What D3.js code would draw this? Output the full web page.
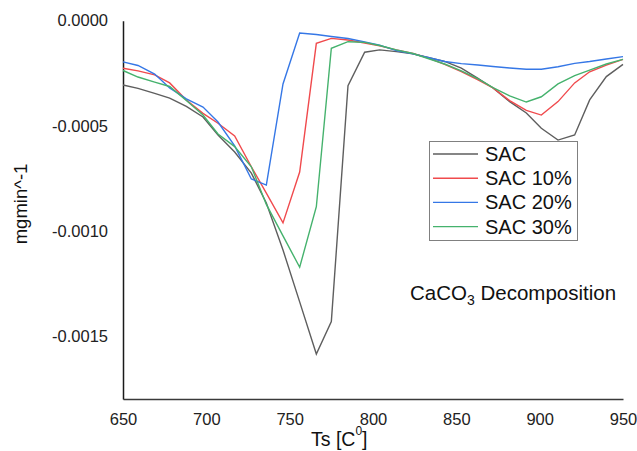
<!DOCTYPE html>
<html>
<head>
<meta charset="utf-8">
<script src="https://cdn.jsdelivr.net/npm/d3@7"></script>
<style>
  html, body { margin: 0; padding: 0; background: #fff; }
  svg { display: block; font-family: "Liberation Sans", Arial, sans-serif; }
</style>
</head>
<body>
<svg id="chart" width="637" height="451"></svg>
<script>
// ---- data ----
const temps = [650, 659, 669, 678, 688, 698, 707, 717, 727, 736, 746, 756, 766, 775, 785, 795,
               804, 814, 824, 833, 843, 853, 863, 872, 882, 892, 901, 911, 921, 930, 940, 950];

const sac = [-0.000306, -0.000322, -0.000346, -0.000368, -0.000408, -0.000458, -0.000544, -0.000625,
             -0.000725, -0.000867, -0.001091, -0.001338, -0.001586, -0.001432, -0.000309, -0.000150,
             -0.000139, -0.000147, -0.000158, -0.000175, -0.000194, -0.000226, -0.000274, -0.000320,
             -0.000385, -0.000439, -0.000512, -0.000568, -0.000544, -0.000377, -0.000266, -0.000208];

const sac10 = [-0.000226, -0.000239, -0.000258, -0.000296, -0.000377, -0.000441, -0.000488, -0.000548,
               -0.000695, -0.000820, -0.000962, -0.000720, -0.000108, -0.000084, -0.000092, -0.000106,
               -0.000120, -0.000139, -0.000156, -0.000177, -0.000208, -0.000242, -0.000282, -0.000320,
               -0.000380, -0.000427, -0.000449, -0.000385, -0.000296, -0.000243, -0.000211, -0.000184];

const sac20 = [-0.000196, -0.000213, -0.000254, -0.000320, -0.000372, -0.000411, -0.000482, -0.000596,
               -0.000753, -0.000782, -0.000301, -0.000059, -0.000066, -0.000075, -0.000085, -0.000101,
               -0.000116, -0.000142, -0.000158, -0.000175, -0.000194, -0.000204, -0.000211, -0.000218,
               -0.000225, -0.000231, -0.000231, -0.000219, -0.000203, -0.000194, -0.000182, -0.000171];

const sac30 = [-0.000237, -0.000268, -0.000292, -0.000313, -0.000380, -0.000449, -0.000539, -0.000599,
               -0.000695, -0.000874, -0.001024, -0.001173, -0.000885, -0.000131, -0.000100, -0.000103,
               -0.000118, -0.000139, -0.000156, -0.000180, -0.000206, -0.000239, -0.000277, -0.000318,
               -0.000358, -0.000387, -0.000362, -0.000301, -0.000261, -0.000235, -0.000206, -0.000184];

const seriesNames = ["SAC", "SAC 10%", "SAC 20%", "SAC 30%"];
const seriesColors = ["#5e5e5e", "#f04a4d", "#3577e6", "#45b26d"];

const xTicks = [650, 700, 750, 800, 850, 900, 950];
const yTicks = [0, -0.0005, -0.0010, -0.0015];
const yTickLabels = ["0.0000", "-0.0005", "-0.0010", "-0.0015"];

// ---- chart ----
const svg = d3.select("#chart");
const x = d3.scaleLinear().domain([650, 950]).range([123, 623]);
const y = d3.scaleLinear().domain([-0.0018, 0]).range([399, 20.7]);

const allSeries = [sac, sac10, sac20, sac30];

// axes
const xAxis = d3.axisBottom(x).tickValues(xTicks).tickSize(0).tickSizeOuter(0).tickPadding(14)
  .tickFormat(d3.format("d"));
const gx = svg.append("g").attr("transform", "translate(0,399)").call(xAxis);
gx.select(".domain").attr("stroke", "#3a3a3a").attr("stroke-width", 1.5);
gx.selectAll("text").attr("font-size", "16.5px").attr("fill", "#222")
  .attr("font-family", "Liberation Sans, Arial, sans-serif");

const yAxis = d3.axisLeft(y).tickValues(yTicks).tickSize(0).tickSizeOuter(0).tickPadding(15)
  .tickFormat((d, i) => yTickLabels[i]);
const gy = svg.append("g").attr("transform", "translate(123,0)").call(yAxis);
gy.select(".domain").attr("stroke", "#1a1a1a").attr("stroke-width", 1.5);
gy.selectAll("text").attr("font-size", "16.5px").attr("fill", "#222")
  .attr("font-family", "Liberation Sans, Arial, sans-serif");

// lines
const line = d3.line().x((d, i) => x(temps[i])).y(d => y(d));
allSeries.forEach((s, k) => {
  svg.append("path").datum(s)
    .attr("fill", "none")
    .attr("stroke", seriesColors[k])
    .attr("stroke-width", 1.4)
    .attr("stroke-linejoin", "miter")
    .attr("d", line);
});

// axis titles
const xt = svg.append("text").attr("x", 311).attr("y", 446)
  .attr("font-size", "19.5px").attr("fill", "#111");
xt.append("tspan").text("Ts [C");
xt.append("tspan").attr("dy", -11).attr("font-size", "12px").text("0");
xt.append("tspan").attr("dy", 11).text("]");

svg.append("text")
  .attr("transform", "translate(27,204) rotate(-90)")
  .attr("text-anchor", "middle")
  .attr("font-size", "18.5px").attr("fill", "#111")
  .text("mgmin^-1");

// annotation
const ann = svg.append("text").attr("x", 410).attr("y", 300)
  .attr("font-size", "20.5px").attr("fill", "#111");
ann.append("tspan").text("CaCO");
ann.append("tspan").attr("dy", 5).attr("font-size", "14px").text("3");
ann.append("tspan").attr("dy", -5).text(" Decomposition");

// legend
const lg = svg.append("g");
lg.append("rect").attr("x", 429.5).attr("y", 141.5).attr("width", 148).attr("height", 99)
  .attr("fill", "#fff").attr("stroke", "#808080").attr("stroke-width", 1);
seriesNames.forEach((name, k) => {
  const cy = 154 + k * 24.2;
  lg.append("line").attr("x1", 433).attr("x2", 478).attr("y1", cy).attr("y2", cy)
    .attr("stroke", seriesColors[k]).attr("stroke-width", 1.4);
  lg.append("text").attr("x", 485).attr("y", cy + 7)
    .attr("font-size", "20px").attr("fill", "#111").text(name);
});
</script>
</body>
</html>
